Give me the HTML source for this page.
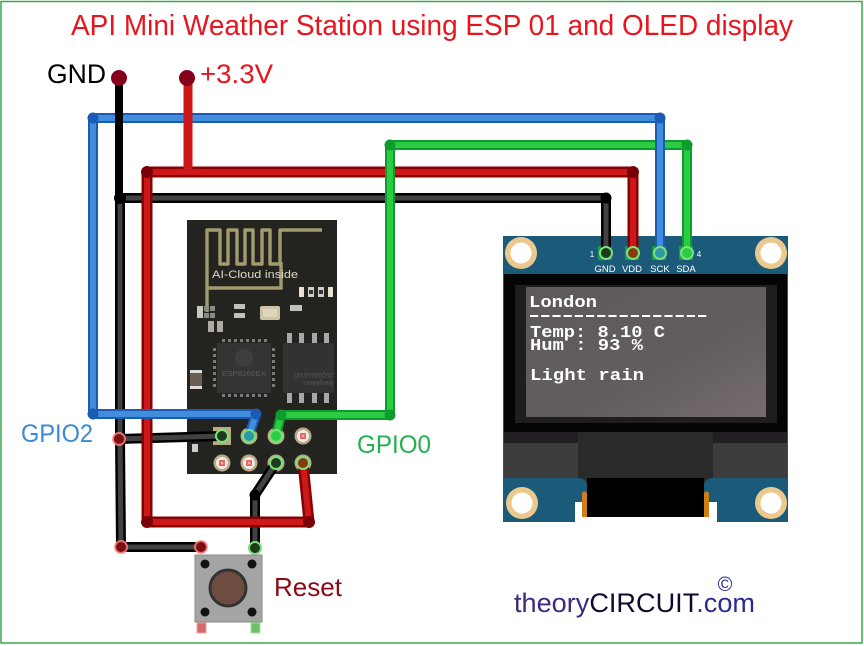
<!DOCTYPE html>
<html><head><meta charset="utf-8"><style>
html,body{margin:0;padding:0;background:#fff;}
svg{display:block;}
.t{font-family:"Liberation Sans",sans-serif;}
.m{font-family:"Liberation Mono",monospace;font-weight:bold;}
.bo{fill:none;stroke:#000;stroke-width:10;stroke-linejoin:round;stroke-linecap:round;}
.bi{fill:none;stroke:#424242;stroke-width:5;stroke-linejoin:round;stroke-linecap:round;}
.ro{fill:none;stroke:#8a0000;stroke-width:11;stroke-linejoin:round;stroke-linecap:round;}
.ri{fill:none;stroke:#cc1818;stroke-width:6;stroke-linejoin:round;stroke-linecap:round;}
.go{fill:none;stroke:#0e9c2c;stroke-width:10;stroke-linejoin:round;stroke-linecap:round;}
.gi{fill:none;stroke:#2ccb44;stroke-width:6;stroke-linejoin:round;stroke-linecap:round;}
.uo{fill:none;stroke:#1c5bb5;stroke-width:10;stroke-linejoin:round;stroke-linecap:round;}
.ui{fill:none;stroke:#3f8ddb;stroke-width:6;stroke-linejoin:round;stroke-linecap:round;}
</style></head><body>
<svg width="864" height="646" viewBox="0 0 864 646" xmlns="http://www.w3.org/2000/svg">
<rect x="0" y="0" width="864" height="646" fill="#fff"/>
<rect x="1" y="1.5" width="861" height="641.5" fill="none" stroke="#3aa84a" stroke-width="1.5"/>

<!-- Title -->
<text class="t" x="71" y="35" font-size="29" textLength="722" lengthAdjust="spacingAndGlyphs" fill="#e8141e">API Mini Weather Station using ESP 01 and OLED display</text>
<text class="t" x="47" y="83" font-size="27" textLength="59" lengthAdjust="spacingAndGlyphs" fill="#000">GND</text>
<text class="t" x="200" y="83" font-size="27" textLength="73" lengthAdjust="spacingAndGlyphs" fill="#e8141e">+3.3V</text>

<!-- ESP-01 board -->
<rect x="187" y="220" width="150" height="254" fill="#23231f"/>
<path d="M207,312 V230 H220 V264 H228 V230 H237 V264 H245 V230 H253 V264 H262 V230 H270 V264 H280 V230 H322" fill="none" stroke="#a39b6f" stroke-width="3.4" stroke-linejoin="round"/>
<path d="M207,288 H281 V262" fill="none" stroke="#a39b6f" stroke-width="3.4"/>
<text class="t" x="212" y="278" font-size="11" textLength="86" lengthAdjust="spacingAndGlyphs" fill="#dcd8c6">AI-Cloud inside</text>
<rect x="299" y="287" width="5" height="10" fill="#e6e2d2"/>
<rect x="308" y="287" width="6" height="10" fill="#d0d0c8"/><rect x="309" y="290" width="4" height="4" fill="#333"/>
<rect x="318" y="287" width="6" height="10" fill="#d0d0c8"/><rect x="319" y="290" width="4" height="4" fill="#333"/>
<rect x="328" y="287" width="5" height="10" fill="#e6e2d2"/>
<rect x="197" y="306" width="6" height="12" fill="#c8c8c0"/>
<rect x="204" y="306" width="5" height="5" fill="#8a8a84"/><rect x="210" y="306" width="5" height="5" fill="#8a8a84"/>
<rect x="204" y="313" width="5" height="5" fill="#8a8a84"/><rect x="210" y="313" width="5" height="5" fill="#8a8a84"/>
<rect x="208" y="321" width="6" height="11" fill="#b0aaa0"/><rect x="217" y="321" width="6" height="11" fill="#b0aaa0"/>
<rect x="234" y="304" width="11" height="5" fill="#c0c0b8"/><rect x="234" y="313" width="11" height="5" fill="#c0c0b8"/>
<rect x="260" y="306" width="20" height="14" rx="2" fill="#cbc3a4"/><rect x="263" y="309" width="14" height="8" fill="#ddd6bb"/>
<rect x="290" y="305" width="12" height="6" fill="#c0c0b8"/>
<rect x="190" y="370" width="12" height="19" fill="#6a5e55"/><rect x="190" y="370" width="12" height="3" fill="#ddd"/><rect x="190" y="386" width="12" height="3" fill="#ddd"/>
<rect x="192" y="444" width="6" height="8" fill="#ccc"/>
<!-- ESP chip -->
<rect x="217" y="343" width="54" height="50" fill="#343432"/>
<g fill="#7a7a78">
<rect x="222" y="339" width="3" height="3"/><rect x="228" y="339" width="3" height="3"/><rect x="234" y="339" width="3" height="3"/><rect x="240" y="339" width="3" height="3"/><rect x="246" y="339" width="3" height="3"/><rect x="252" y="339" width="3" height="3"/><rect x="258" y="339" width="3" height="3"/><rect x="264" y="339" width="3" height="3"/>
<rect x="222" y="394" width="3" height="3"/><rect x="228" y="394" width="3" height="3"/><rect x="234" y="394" width="3" height="3"/><rect x="240" y="394" width="3" height="3"/><rect x="246" y="394" width="3" height="3"/><rect x="252" y="394" width="3" height="3"/><rect x="258" y="394" width="3" height="3"/><rect x="264" y="394" width="3" height="3"/>
<rect x="213" y="348" width="3" height="3"/><rect x="213" y="354" width="3" height="3"/><rect x="213" y="360" width="3" height="3"/><rect x="213" y="366" width="3" height="3"/><rect x="213" y="372" width="3" height="3"/><rect x="213" y="378" width="3" height="3"/><rect x="213" y="384" width="3" height="3"/>
<rect x="272" y="348" width="3" height="3"/><rect x="272" y="354" width="3" height="3"/><rect x="272" y="360" width="3" height="3"/><rect x="272" y="366" width="3" height="3"/><rect x="272" y="372" width="3" height="3"/><rect x="272" y="378" width="3" height="3"/><rect x="272" y="384" width="3" height="3"/>
</g>
<circle cx="244" cy="358" r="9" fill="#3e3e3c"/>
<text class="t" x="222" y="376" font-size="7" textLength="44" lengthAdjust="spacingAndGlyphs" fill="#5a5a58">ESP8266EX</text>
<!-- Memory chip -->
<rect x="283" y="343" width="51" height="50" fill="#323230"/>
<g fill="#a8a8a6">
<rect x="287" y="333" width="5" height="10"/><rect x="299" y="333" width="5" height="10"/><rect x="312" y="333" width="5" height="10"/><rect x="324" y="333" width="5" height="10"/>
<rect x="287" y="393" width="5" height="10"/><rect x="299" y="393" width="5" height="10"/><rect x="312" y="393" width="5" height="10"/><rect x="324" y="393" width="5" height="10"/>
</g>
<text class="t" x="0" y="0" font-size="6.5" fill="#5a5a58" transform="translate(333,381) rotate(180)">BergMicro</text>
<text class="t" x="0" y="0" font-size="6" fill="#5a5a58" transform="translate(333,373) rotate(180)">25Q080ASSIG</text>
<!-- ESP pins -->
<rect x="213" y="427" width="18" height="18" fill="#b9ab86"/>
<g>
<circle cx="249" cy="436" r="8.5" fill="#b8aa84"/>
<circle cx="276" cy="436" r="8.5" fill="#b8aa84"/>
<circle cx="303" cy="436" r="8.5" fill="#b8aa84"/><circle cx="303" cy="436" r="6" fill="#f3ece6"/><rect x="300" y="433" width="6" height="6" fill="#e86a6a"/><rect x="302" y="435" width="2" height="2" fill="#f5b0b0"/>
<circle cx="222" cy="463" r="8.5" fill="#b8aa84"/><circle cx="222" cy="463" r="6" fill="#f3ece6"/><rect x="219" y="460" width="6" height="6" fill="#e86a6a"/><rect x="221" y="462" width="2" height="2" fill="#f5b0b0"/>
<circle cx="249" cy="463" r="8.5" fill="#b8aa84"/><circle cx="249" cy="463" r="6" fill="#f3ece6"/><rect x="246" y="460" width="6" height="6" fill="#e86a6a"/><rect x="248" y="462" width="2" height="2" fill="#f5b0b0"/>
<circle cx="276" cy="463" r="8.5" fill="#b8aa84"/>
<circle cx="303" cy="463" r="8.5" fill="#b8aa84"/>
</g>

<!-- OLED board -->
<rect x="503" y="236" width="285" height="242" fill="#1b5a78"/>
<rect x="504" y="274" width="283" height="159" fill="#050505"/>
<rect x="515" y="285" width="262" height="138" fill="#1e1e1e"/>
<defs><linearGradient id="scr" x1="0" y1="0" x2="1" y2="1"><stop offset="0" stop-color="#5d595b"/><stop offset="0.6" stop-color="#635d5f"/><stop offset="1" stop-color="#756c6e"/></linearGradient></defs>
<rect x="526" y="287" width="240" height="130" fill="url(#scr)"/>
<rect x="504" y="432" width="283" height="11" fill="#221f22"/>
<rect x="504" y="443" width="283" height="45" fill="#3d3d3d"/>
<rect x="578" y="432" width="135" height="56" fill="#2a2a2a"/>
<!-- bottom blue pieces -->
<path d="M503,478 H579 A8,8 0 0 1 587,486 V502 H575 V522 H503 Z" fill="#1b5a78"/>
<path d="M788,478 H712 A8,8 0 0 0 704,486 V502 H717 V522 H788 Z" fill="#1b5a78"/>
<rect x="575" y="502" width="142" height="20" fill="#fff"/>
<rect x="587" y="478" width="117" height="39" fill="#000"/>
<path d="M582,517 V494 A2.5,2.5 0 0 1 587,494 V517 Z" fill="#d07e18"/>
<path d="M704,517 V494 A2.5,2.5 0 0 1 709,494 V517 Z" fill="#d07e18"/>
<!-- holes -->
<g>
<circle cx="521" cy="253" r="16" fill="#ebc98e"/><circle cx="521" cy="253" r="10.5" fill="#fff"/>
<circle cx="771" cy="253" r="16" fill="#ebc98e"/><circle cx="771" cy="253" r="10.5" fill="#fff"/>
<circle cx="522" cy="503" r="16" fill="#ebc98e"/><circle cx="522" cy="503" r="10.5" fill="#fff"/>
<circle cx="771" cy="503" r="16" fill="#ebc98e"/><circle cx="771" cy="503" r="10.5" fill="#fff"/>
</g>
<!-- OLED screen text -->
<text class="m" x="529" y="307" font-size="17" textLength="68" lengthAdjust="spacingAndGlyphs" fill="#fff">London</text>
<line x1="530" y1="316" x2="709" y2="316" stroke="#fff" stroke-width="2" stroke-dasharray="8.2 3"/>
<text class="m" x="530" y="337" font-size="17" textLength="135" lengthAdjust="spacingAndGlyphs" fill="#fff">Temp: 8.10 C</text>
<text class="m" x="530" y="350" font-size="17" textLength="113" lengthAdjust="spacingAndGlyphs" fill="#fff">Hum : 93 %</text>
<text class="m" x="530" y="380" font-size="17" textLength="114" lengthAdjust="spacingAndGlyphs" fill="#fff">Light rain</text>
<!-- OLED pin labels -->
<g class="t" font-size="9.5" fill="#fff" text-anchor="middle">
<text x="605" y="272">GND</text><text x="632" y="272">VDD</text><text x="660" y="272">SCK</text><text x="686" y="272">SDA</text>
<text x="592" y="257" font-size="8">1</text><text x="699" y="257" font-size="8">4</text>
</g>
<g fill="#1c9a52">
<rect x="598" y="246" width="14" height="14"/><rect x="625" y="246" width="14" height="14"/><rect x="652" y="246" width="14" height="14"/><rect x="679" y="246" width="14" height="14"/>
</g>

<!-- WIRES group A: black -->
<path class="bo" d="M120,198 L606,198 L606,253"/>
<path class="bi" d="M120,198 L606,198 L606,253"/>
<path class="bo" d="M120,198 L120,439 L121,547 L201,547"/>
<path class="bi" d="M120,198 L120,439 L121,547 L201,547"/>
<path class="bo" d="M119,439 L222,436"/>
<path class="bi" d="M119,439 L222,436"/>
<path class="bo" d="M276,463 L255,495 L255,548"/>
<path class="bi" d="M276,463 L255,495 L255,548"/>
<circle cx="606" cy="198" r="5.5" fill="#000"/>
<circle cx="255" cy="495" r="5.5" fill="#000"/>
<!-- group B: red -->
<path class="ro" d="M633,253 L633,172 L147,172 L147,522 L309,522 L303,463"/>
<path class="ri" d="M633,253 L633,172 L147,172 L147,522 L309,522 L303,463"/>
<circle cx="147" cy="172" r="6" fill="#7a0008"/>
<circle cx="633" cy="172" r="6" fill="#7a0008"/>
<circle cx="147" cy="522" r="6" fill="#7a0008"/>
<circle cx="309" cy="522" r="6" fill="#7a0008"/>
<!-- group C: green -->
<path class="go" d="M276,436 L281,415 L390,415 L390,145 L687,145 L687,253"/>
<path class="gi" d="M276,436 L281,415 L390,415 L390,145 L687,145 L687,253"/>
<circle cx="390" cy="145" r="5.5" fill="#0e9c2c"/>
<circle cx="687" cy="145" r="5.5" fill="#0e9c2c"/>
<circle cx="390" cy="415" r="5.5" fill="#0e9c2c"/>
<circle cx="281" cy="415" r="5.5" fill="#0e9c2c"/>
<!-- group D: blue -->
<path class="uo" d="M249,436 L256,414 L93,414 L93,118 L660,118 L660,253"/>
<path class="ui" d="M249,436 L256,414 L93,414 L93,118 L660,118 L660,253"/>
<circle cx="93" cy="118" r="5.5" fill="#1c5bb5"/>
<circle cx="660" cy="118" r="5.5" fill="#1c5bb5"/>
<circle cx="93" cy="414" r="5.5" fill="#1c5bb5"/>
<circle cx="256" cy="414" r="5.5" fill="#1c5bb5"/>
<!-- group E: drops -->
<path d="M119,78 L119,198" stroke="#000" stroke-width="8" fill="none"/>
<circle cx="120" cy="198" r="6" fill="#000"/>
<path d="M188,78 L188,172" stroke="#cc1818" stroke-width="9" fill="none"/>
<circle cx="119" cy="78" r="8" fill="#85001a"/>
<circle cx="187" cy="78" r="8" fill="#85001a"/>

<!-- wire ends on OLED pins -->
<g stroke="#7be07b" stroke-width="2">
<circle cx="606" cy="253" r="6" fill="#1d3a1d"/>
<circle cx="633" cy="253" r="6" fill="#8a3a10"/>
<circle cx="660" cy="253" r="6" fill="#2a9aa8"/>
<circle cx="687" cy="253" r="6" fill="#2ccb44"/>
</g>
<!-- wire ends on ESP pins -->
<g stroke="#7be07b" stroke-width="2">
<circle cx="222" cy="436" r="6" fill="#1d3a1d"/>
<circle cx="249" cy="436" r="6" fill="#2a9aa8"/>
<circle cx="276" cy="436" r="6" fill="#2ccb44"/>
<circle cx="276" cy="463" r="6" fill="#1d3a1d"/>
<circle cx="303" cy="463" r="6" fill="#8a3a10"/>
</g>
<!-- unconnected markers -->
<g stroke="#ff8a8a" stroke-width="2" stroke-opacity="0.8">
<circle cx="119" cy="439" r="6" fill="#7a1010"/>
<circle cx="121" cy="547" r="6" fill="#7a1010"/>
<circle cx="201" cy="547" r="6" fill="#7a1010"/>
</g>
<circle cx="255" cy="548" r="6" fill="#1d3a1d" stroke="#7be07b" stroke-width="2"/>

<!-- Reset button -->
<rect x="195" y="555" width="67" height="67" fill="#a4a4a4" stroke="#8a8a8a" stroke-width="1"/>
<circle cx="228" cy="588" r="18" fill="#6d4c42" stroke="#333" stroke-width="3"/>
<circle cx="205" cy="564" r="4.5" fill="#111"/>
<circle cx="252" cy="564" r="4.5" fill="#111"/>
<circle cx="205" cy="612" r="4.5" fill="#111"/>
<circle cx="252" cy="612" r="4.5" fill="#111"/>
<rect x="197" y="623" width="9" height="10" fill="#d46a6a" stroke="#f2a0a0" stroke-width="1"/>
<rect x="251" y="623" width="9" height="10" fill="#6ac06a" stroke="#a0e0a0" stroke-width="1"/>

<!-- Labels -->
<text class="t" x="21" y="442" font-size="25" textLength="72" lengthAdjust="spacingAndGlyphs" fill="#3a88d8">GPIO2</text>
<text class="t" x="357" y="453" font-size="25" textLength="74" lengthAdjust="spacingAndGlyphs" fill="#25b050">GPIO0</text>
<text class="t" x="274" y="596" font-size="26" textLength="68" lengthAdjust="spacingAndGlyphs" fill="#8b0a14">Reset</text>

<text class="t" x="514" y="612" font-size="27" textLength="241" lengthAdjust="spacingAndGlyphs"><tspan fill="#3b2a80">theory</tspan><tspan fill="#0c0c30">CIRCUIT</tspan><tspan fill="#2a2a90">.com</tspan></text>
<text class="t" x="725" y="591" font-size="20" text-anchor="middle" fill="#2a2a90">©</text>
</svg>
</body></html>
